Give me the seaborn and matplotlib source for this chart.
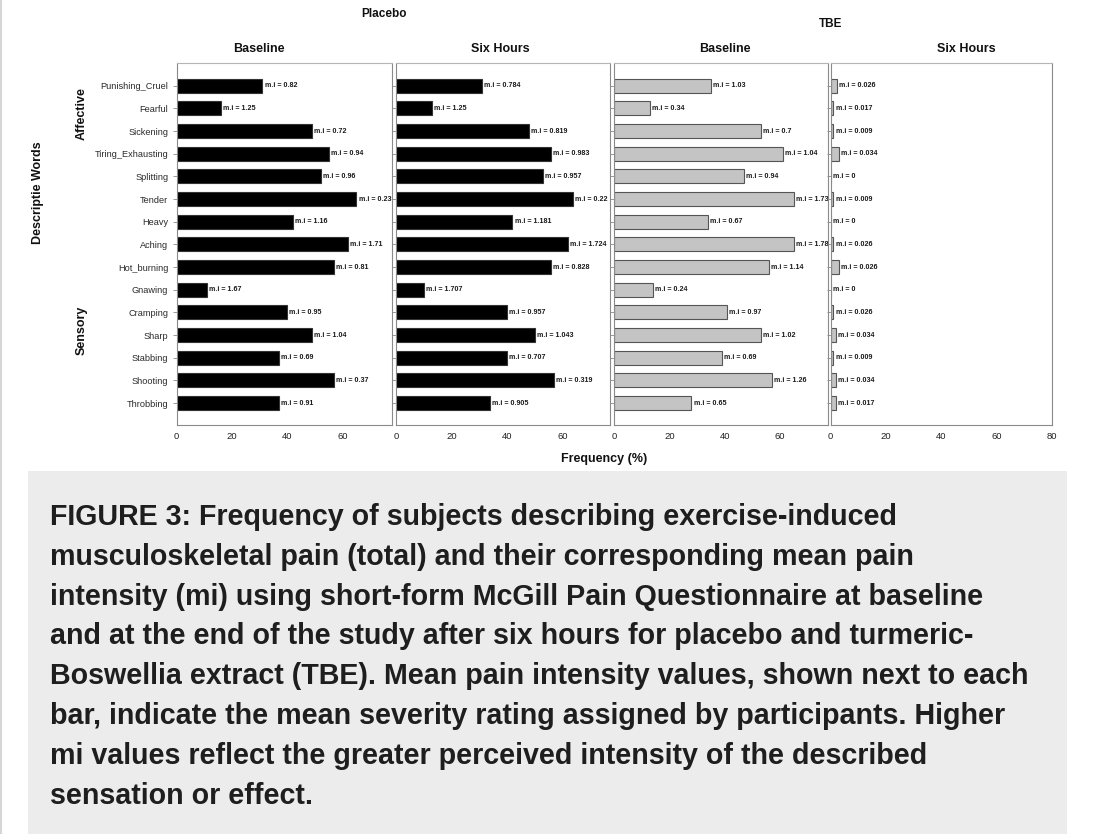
import matplotlib
matplotlib.use("Agg")
import matplotlib.pyplot as plt
import seaborn as sns
import pandas as pd
from matplotlib.patches import Rectangle
from matplotlib.lines import Line2D

# ---------------- data ----------------
categories = ["Punishing_Cruel", "Fearful", "Sickening", "Tiring_Exhausting", "Splitting",
              "Tender", "Heavy", "Aching", "Hot_burning", "Gnawing", "Cramping", "Sharp",
              "Stabbing", "Shooting", "Throbbing"]

placebo_baseline = [31, 16, 49, 55, 52, 65, 42, 62, 57, 11, 40, 49, 37, 57, 37]
placebo_six = [31, 13, 48, 56, 53, 64, 42, 62, 56, 10, 40, 50, 40, 57, 34]
tbe_baseline = [35, 13, 53, 61, 47, 65, 34, 65, 56, 14, 41, 53, 39, 57, 28]
tbe_six = [2.4, 1, 1, 3, 0, 1, 0, 1, 3, 0, 1, 2, 1, 2, 2]

mi_placebo_baseline = [0.82, 1.25, 0.72, 0.94, 0.96, 0.23, 1.16, 1.71, 0.81, 1.67, 0.95, 1.04, 0.69, 0.37, 0.91]
mi_placebo_six = [0.784, 1.25, 0.819, 0.983, 0.957, 0.22, 1.181, 1.724, 0.828, 1.707, 0.957, 1.043, 0.707, 0.319, 0.905]
mi_tbe_baseline = [1.03, 0.34, 0.7, 1.04, 0.94, 1.73, 0.67, 1.78, 1.14, 0.24, 0.97, 1.02, 0.69, 1.26, 0.65]
mi_tbe_six = [0.026, 0.017, 0.009, 0.034, 0, 0.009, 0, 0.026, 0.026, 0, 0.026, 0.034, 0.009, 0.034, 0.017]

panel_titles = ["Baseline", "Six Hours", "Baseline", "Six Hours"]
group_titles = ["Placebo", "TBE"]
x_ticks_a = [0, 20, 40, 60]
x_ticks_b = [0, 20, 40, 60, 80]

caption_lines = [
    "FIGURE 3: Frequency of subjects describing exercise-induced",
    "musculoskeletal pain (total) and their corresponding mean pain",
    "intensity (mi) using short-form McGill Pain Questionnaire at baseline",
    "and at the end of the study after six hours for placebo and turmeric-",
    "Boswellia extract (TBE). Mean pain intensity values, shown next to each",
    "bar, indicate the mean severity rating assigned by participants. Higher",
    "mi values reflect the greater perceived intensity of the described",
    "sensation or effect.",
]

# ---------------- style ----------------
sns.set_theme(style="white")
plt.rcParams["font.family"] = ["Liberation Sans", "DejaVu Sans"]

W, H = 1095, 834
fig = plt.figure(figsize=(W / 100, H / 100), dpi=100)
fig.patch.set_facecolor("white")

def fx(px):
    return px / W

def fy(py):
    return 1 - py / H

# caption box
fig.patches.append(Rectangle((fx(28), 0), fx(1067 - 28), (834 - 471) / H,
                             transform=fig.transFigure, facecolor="#ececec",
                             edgecolor="none", zorder=0))
fig.lines.append(Line2D([fx(1), fx(1)], [0, 1], transform=fig.transFigure,
                        color="#d6d6d6", lw=1.5))

panels = [
    (placebo_baseline, mi_placebo_baseline, "black", "#333333", 176.7, 214.9, 77.7, x_ticks_a),
    (placebo_six, mi_placebo_six, "black", "#333333", 396.0, 214.0, 77.2, x_ticks_a),
    (tbe_baseline, mi_tbe_baseline, "#c4c4c4", "#555555", 614.0, 214.3, 77.5, x_ticks_a),
    (tbe_six, mi_tbe_six, "#c4c4c4", "#555555", 830.7, 221.6, 80.0, x_ticks_b),
]

top_px, bot_px = 63, 425
axes = []
for i, (freq, mi, fc, ec, left_px, width_px, xmax, xt) in enumerate(panels):
    ax = fig.add_axes([fx(left_px), fy(bot_px), fx(width_px), (bot_px - top_px) / H])
    df = pd.DataFrame({"word": categories, "freq": freq})
    sns.barplot(data=df, y="word", x="freq", order=categories, color=fc,
                saturation=1, edgecolor=ec, linewidth=0.8, width=0.62,
                errorbar=None, ax=ax)
    ax.set_xlim(0, xmax)
    ax.set_ylim(14.97, -1.0)
    ax.set_xticks(xt)
    ax.set_xticklabels([str(t) for t in xt], fontsize=6.8, color="#222222")
    ax.set_xlabel("")
    ax.set_ylabel("")
    ax.tick_params(axis="x", direction="in", length=3, width=0.6, color="#888888", pad=5)
    ax.tick_params(axis="y", direction="out", length=3, width=0.6, color="#888888", pad=3,
                   left=True)
    if i == 0:
        ax.set_yticklabels(categories, fontsize=6.6, color="#2a2a2a")
    else:
        ax.set_yticklabels([])
    for s in ax.spines.values():
        s.set_color("#8a8a8a")
        s.set_linewidth(0.8)
    ax.spines["top"].set_color("#b5b5b5")
    labels = ["m.i = " + format(v, "g") for v in mi]
    for t in ax.bar_label(ax.containers[0], labels=labels, padding=1.5,
                          fontsize=5.1, fontweight="bold", color="#1a1a1a"):
        t.set_clip_on(False)
    ax.set_facecolor("white")
    axes.append(ax)

# titles
for cx, txt in zip([259, 500, 725, 966], panel_titles):
    fig.text(fx(cx), fy(49), txt, ha="center", va="center", fontsize=9,
             fontweight="bold", color="#111111")
fig.text(fx(384), fy(14), group_titles[0], ha="center", va="center", fontsize=8.5,
         fontweight="bold", color="#111111")
fig.text(fx(831), fy(24), group_titles[1], ha="center", va="center", fontsize=8.5,
         fontweight="bold", color="#111111")

fig.text(fx(604), fy(459), "Frequency (%)", ha="center", va="center", fontsize=9,
         fontweight="bold", color="#111111")
fig.text(fx(38), fy(193), "Descriptie Words", ha="center", va="center", fontsize=9,
         fontweight="bold", rotation=90, color="#111111")
fig.text(fx(82), fy(114), "Affective", ha="center", va="center", fontsize=9,
         fontweight="bold", rotation=90, color="#111111")
fig.text(fx(82), fy(330), "Sensory", ha="center", va="center", fontsize=9,
         fontweight="bold", rotation=90, color="#111111")

# caption
for k, line in enumerate(caption_lines):
    fig.text(fx(50), fy(517 + k * 39.8), line, ha="left", va="center",
             fontsize=20.6, fontweight="bold", color="#1e1e1e")

fig.savefig("out.png", dpi=100)
